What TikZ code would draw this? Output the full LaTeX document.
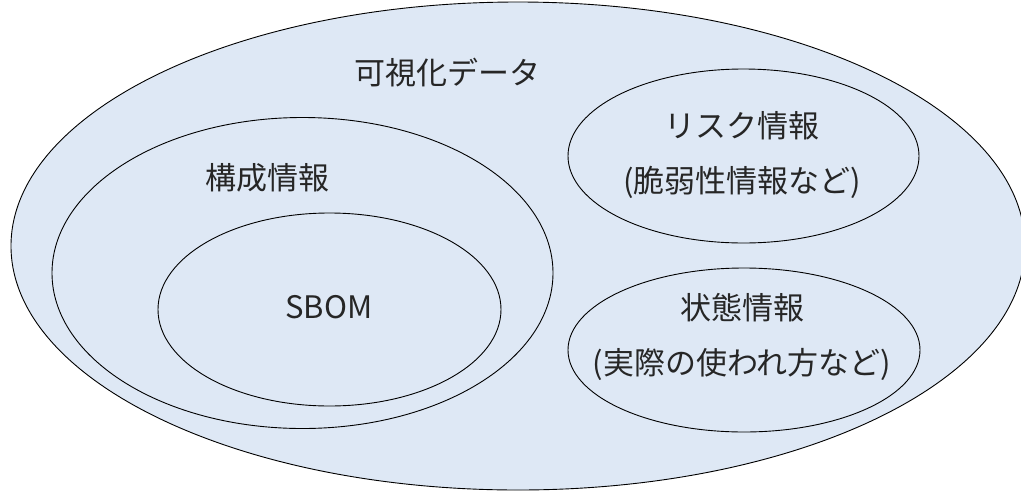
\documentclass[tikz,border=0pt]{standalone}
\usepackage{fontspec}
\usetikzlibrary{shapes.geometric}
\newfontfamily\jp{Noto Sans CJK JP}
\definecolor{fillblue}{RGB}{222,232,245}
\tikzset{
  set/.style={ellipse, draw=black, line width=0.9pt, fill=fillblue, inner sep=0pt},
  lbl/.style={font=\jp\fontsize{31}{55}\selectfont, text=black!85, align=center, inner sep=0pt}
}
\begin{document}
\begin{tikzpicture}[x=1pt,y=-1pt]
\useasboundingbox (0,0) rectangle (1021,491);
\clip (0,0) rectangle (1021,491);
\node[set, minimum width=1014pt, minimum height=488pt] (viz) at (518,246) {};
\node[set, minimum width=501pt, minimum height=311pt] (comp) at (302.5,273) {};
\node[set, minimum width=343pt, minimum height=193pt] (sbomE) at (329.5,309.5) {};
\node[set, minimum width=351pt, minimum height=174pt] (risk) at (743.5,156) {};
\node[set, minimum width=352pt, minimum height=164pt] (state) at (744,350) {};
\node[lbl] (vizT) at (447,73) {可視化データ};
\node[lbl] (compT) at (267,178) {構成情報};
\node[lbl] (sbomT) at (329,307) {SBOM};
\node[lbl] (riskT) at (742,155) {リスク情報\\(脆弱性情報など)};
\node[lbl] (stateT) at (742,337) {状態情報\\(実際の使われ方など)};
\end{tikzpicture}
\end{document}
